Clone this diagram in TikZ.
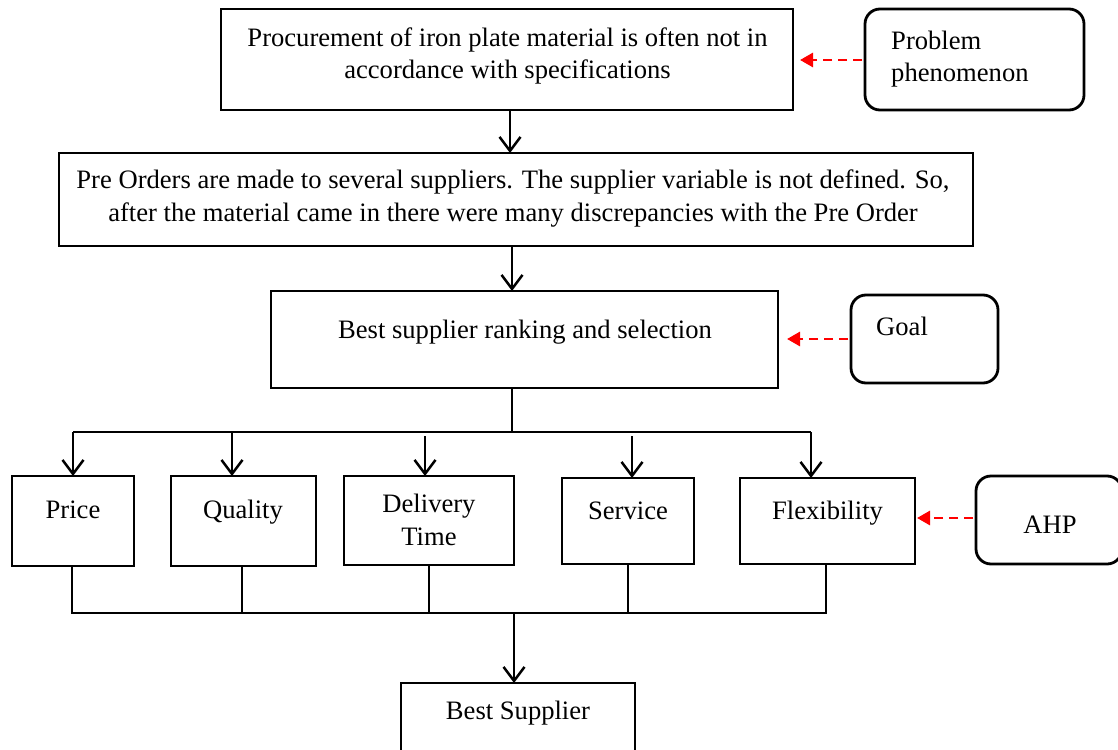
\documentclass[tikz,border=0pt]{standalone}
\usepackage{fontspec}
\setmainfont{Liberation Serif}
\usetikzlibrary{arrows.meta}
\begin{document}
\begin{tikzpicture}[x=1pt,y=-1pt,
  box/.style={draw, line width=2.8pt, inner sep=0pt, outer sep=0pt},
  rbox/.style={box, rounded corners=15pt},
  txt/.style={font=\fontsize{26.6}{32.5}\selectfont, inner sep=0pt, anchor=base, align=center},
  ltxt/.style={txt, align=left, anchor=base west},
  arr/.style={line width=2.5pt, -{Straight Barb[length=14pt,width=21pt,line width=2.5pt]}},
  ln/.style={line width=2.5pt},
  redarr/.style={draw=red, line width=2.8pt, dash pattern=on 9pt off 6pt, -{Triangle[length=13pt,width=14pt]}, red}
]
\useasboundingbox (0,0) rectangle (1118,749);
% boxes
\node[box, minimum width=572pt, minimum height=101pt] (proc) at (507,59.5) {};
\node[rbox, minimum width=219pt, minimum height=101pt] (prob) at (974.5,59.5) {};
\node[box, minimum width=914pt, minimum height=93pt] (pre) at (516,199.5) {};
\node[box, minimum width=507pt, minimum height=97pt] (sel) at (524.5,339.5) {};
\node[rbox, minimum width=147pt, minimum height=88pt] (goal) at (924.5,339) {};
\node[box, minimum width=122pt, minimum height=90pt] (price) at (73,521) {};
\node[box, minimum width=145pt, minimum height=90pt] (qual) at (243.5,521) {};
\node[box, minimum width=170pt, minimum height=89pt] (deliv) at (429,520.5) {};
\node[box, minimum width=132pt, minimum height=86pt] (serv) at (628,521) {};
\node[box, minimum width=175pt, minimum height=86pt] (flex) at (827.5,521) {};
\node[rbox, minimum width=146pt, minimum height=88pt] (ahp) at (1049,520) {};
\node[box, minimum width=234pt, minimum height=72pt] (best) at (518,719) {};
% texts (base anchor = baseline of last line)
\node[txt] (proctxt) at (507.5,79) {Procurement of iron plate material is often not in\\accordance with specifications};
\node[ltxt] (probtxt) at (891,82) {Problem\\phenomenon};
\node[txt] (pretxt) at (513,221) {Pre Orders are made to several suppliers. The supplier variable is not defined. So,\\after the material came in there were many discrepancies with the Pre Order};
\node[txt] (seltxt) at (525,338) {Best supplier ranking and selection};
\node[ltxt] (goaltxt) at (876,335) {Goal};
\node[txt] (pricetxt) at (73,518) {Price};
\node[txt] (qualtxt) at (243,518) {Quality};
\node[txt] (delivtxt) at (429,545) {Delivery\\Time};
\node[txt] (servtxt) at (628,519) {Service};
\node[txt] (flextxt) at (827.5,519) {Flexibility};
\node[txt] (ahptxt) at (1050,533) {AHP};
\node[txt] (besttxt) at (518,719) {Best Supplier};
% main flow
\draw[arr] ([xshift=3pt]proc.south) -- ([xshift=3pt]proc.south |- pre.north);
\draw[arr] ([xshift=-4pt]pre.south) -- ([xshift=-4pt]pre.south |- sel.north);
% distribution bus
\coordinate (top) at (512,432);
\coordinate (b1) at (73,432);
\coordinate (b2) at (232,432);
\coordinate (b3) at (425,436);
\coordinate (b4) at (632,436);
\coordinate (b5) at (811,432);
\draw[ln] ([xshift=-12.5pt]sel.south) -- (top);
\draw[ln] (b1) -- (b5 -| b1) -- (b5);
\draw[arr] (b1) -- (b1 |- price.north);
\draw[arr] (b2) -- (b2 |- qual.north);
\draw[arr] (b3) -- (b3 |- deliv.north);
\draw[arr] (b4) -- (b4 |- serv.north);
\draw[arr] (b5) -- (b5 |- flex.north);
% collecting bus
\coordinate (c1) at (72,613);
\coordinate (c2) at (242,613);
\coordinate (c3) at (429,613);
\coordinate (c4) at (628,613);
\coordinate (c5) at (826,613);
\coordinate (cm) at (514,613);
\draw[ln] (c1 |- price.south) -- (c1) -- (c5) -- (c5 |- flex.south);
\draw[ln] (c2 |- qual.south) -- (c2);
\draw[ln] (c3 |- deliv.south) -- (c3);
\draw[ln] (c4 |- serv.south) -- (c4);
\draw[arr] (cm) -- (cm |- best.north);
% red dashed arrows
\draw[redarr] ([xshift=-3pt]prob.west |- 0,60) -- ([xshift=7pt]proc.east |- 0,60);
\draw[redarr] ([xshift=-3pt]goal.west |- 0,339) -- ([xshift=9pt]sel.east |- 0,339);
\draw[redarr] ([xshift=-3pt]ahp.west |- 0,518) -- ([xshift=2pt]flex.east |- 0,518);
\end{tikzpicture}
\end{document}
